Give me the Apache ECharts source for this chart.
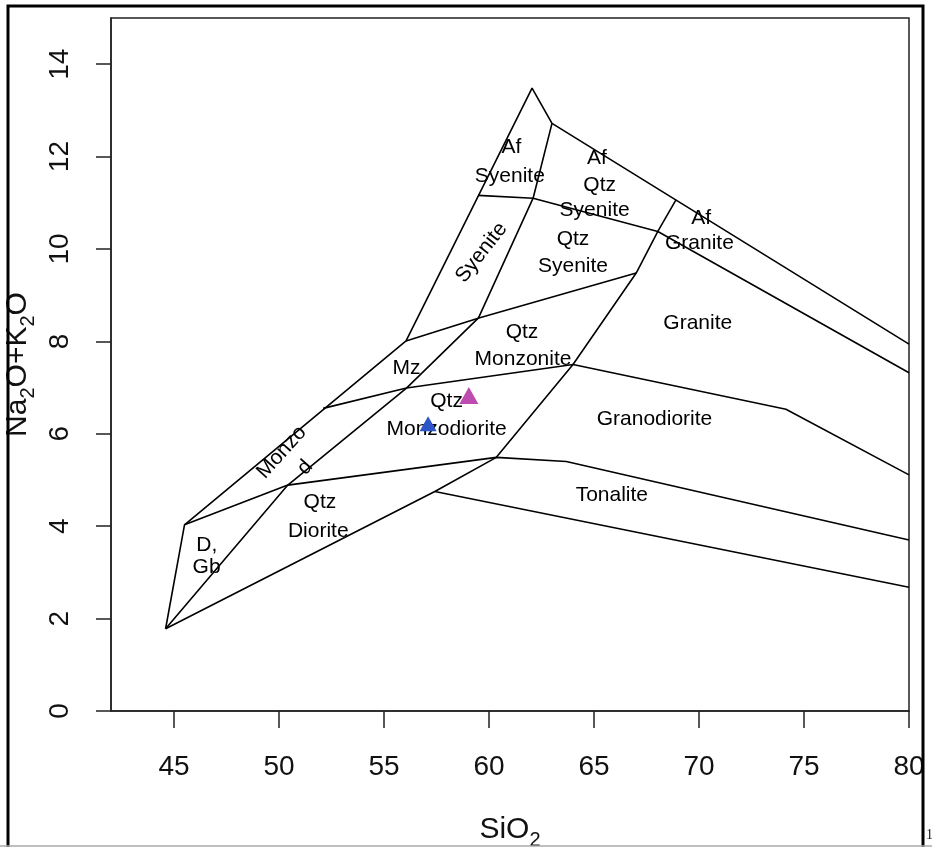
<!DOCTYPE html>
<html>
<head>
<meta charset="utf-8">
<script src="https://cdn.jsdelivr.net/npm/echarts@6/dist/echarts.min.js"></script>
<style>
html,body{margin:0;padding:0;background:#fff;}
#chart{width:932px;height:847px;}
</style>
</head>
<body>
<div id="chart"></div>
<script>
// ---- Axis ticks ----
const xTicks = [45, 50, 55, 60, 65, 70, 75, 80];
const yTicks = [0, 2, 4, 6, 8, 10, 12, 14];

// ---- Field boundary polylines (SiO2, Na2O+K2O) ----
const outerBoundary   = [[44.6,1.78],[45.5,4.03],[56.05,8.01],[62.05,13.48],[63.0,12.72],[80,7.94]];
const lowerBoundary   = [[44.6,1.78],[57.42,4.75],[60.35,5.49],[64.0,7.5],[67.01,9.48],[68.04,10.38],[68.91,11.07]];
const dioriteTop      = [[45.5,4.03],[50.42,4.89],[60.35,5.49],[63.68,5.40],[80,3.70]];
const tonaliteBottom  = [[57.42,4.75],[80,2.68]];
const monzoniteBottom = [[52.1,6.55],[56.07,6.99],[64.0,7.5],[74.14,6.53],[80,5.11]];
const syeniteBottom   = [[56.05,8.01],[59.56,8.51],[67.01,9.48]];
const innerSteep      = [[44.6,1.78],[50.42,4.89],[56.07,6.99],[59.5,8.51],[62.1,11.1],[63.0,12.72]];
const afSyeniteBottom = [[59.48,11.16],[62.1,11.1],[68.04,10.38],[80,7.32]];
const boundaries = [outerBoundary, lowerBoundary, dioriteTop, tonaliteBottom,
                    monzoniteBottom, syeniteBottom, innerSteep, afSyeniteBottom];

// ---- Field names ----
const fieldText  = ['Af','Syenite','Af','Qtz','Syenite','Af','Granite','Syenite','Qtz','Syenite',
                    'Qtz','Monzonite','Mz','Granite','Granodiorite','Tonalite','Qtz','Monzodiorite',
                    'Monzo','d','Qtz','Diorite','D,','Gb'];
const fieldX     = [61.07,60.99,65.14,65.27,65.03,70.10,70.02,59.64,64.0,64.0,
                    61.57,61.62,56.07,69.94,67.88,65.85,57.98,57.98,
                    50.13,51.24,51.95,51.87,46.56,46.55];
const fieldY     = [12.20,11.57,11.96,11.39,10.85,10.67,10.13,9.92,10.21,9.63,
                    8.19,7.61,7.43,8.40,6.32,4.68,6.71,6.10,
                    5.60,5.27,4.52,3.90,3.58,3.11];
const fieldAngle = [0,0,0,0,0,0,0,52,0,0,0,0,0,0,0,0,0,0,48,48,0,0,0,0];

// ---- Samples ----
const sampleMagenta = [[59.04,6.83]];
const sampleBlue    = [[57.10,6.22]];

const FONT = '"Liberation Sans", Arial, Helvetica, sans-serif';

const series = boundaries.map(b => ({
  type: 'line', data: b, symbol: 'none', silent: true, z: 3,
  lineStyle: {color: '#000', width: 1.6}
}));

series.push({
  type: 'scatter', symbolSize: 0, silent: true, z: 4,
  data: fieldText.map((t, i) => ({
    value: [fieldX[i], fieldY[i]], name: t,
    label: {rotate: fieldAngle[i]}
  })),
  label: {
    show: true, position: 'inside', formatter: p => p.name,
    fontFamily: FONT, fontSize: 21, color: '#000',
    textBorderWidth: 0, textBorderColor: 'transparent',
    align: 'center', verticalAlign: 'middle'
  },
  itemStyle: {opacity: 1}
});

series.push({
  type: 'scatter', data: sampleMagenta, symbol: 'triangle', symbolSize: [19, 17],
  itemStyle: {color: '#BE4BAF', opacity: 1}, z: 6
});
series.push({
  type: 'scatter', data: sampleBlue, symbol: 'triangle', symbolSize: [17, 15],
  itemStyle: {color: '#2D55C8', opacity: 1}, z: 6
});

const chart = echarts.init(document.getElementById('chart'), null, {renderer: 'canvas'});
chart.setOption({
  animation: false,
  backgroundColor: '#fff',
  grid: {left: 111, top: 18, right: 23, bottom: 136, show: true, containLabel: false,
         outerBoundsMode: 'none',
         borderColor: '#222', borderWidth: 1.5, backgroundColor: 'transparent'},
  xAxis: {
    type: 'value', min: 42, max: 80,
    name: '{n|SiO}{s|2}', nameLocation: 'middle', nameGap: 98,
    nameTextStyle: {
      rich: {
        n: {fontFamily: FONT, fontSize: 30, color: '#111'},
        s: {fontFamily: FONT, fontSize: 20, color: '#111', padding: [21, 0, 0, 0]}
      }
    },
    axisLine: {show: true, lineStyle: {color: '#222', width: 1.5}},
    axisTick: {show: true, length: 17, customValues: xTicks, lineStyle: {color: '#222', width: 1.5}},
    axisLabel: {customValues: xTicks, margin: 42, fontFamily: FONT, fontSize: 28, color: '#111'},
    splitLine: {show: false}
  },
  yAxis: {
    type: 'value', min: 0, max: 15,
    name: '{n|Na}{s|2}{n|O+K}{s|2}{n|O}', nameLocation: 'middle', nameGap: 67, nameRotate: 90,
    nameTextStyle: {
      rich: {
        n: {fontFamily: FONT, fontSize: 30, color: '#111'},
        s: {fontFamily: FONT, fontSize: 20, color: '#111', padding: [21, 0, 0, 0]}
      }
    },
    axisLine: {show: true, lineStyle: {color: '#222', width: 1.5}},
    axisTick: {show: true, length: 15, customValues: yTicks, lineStyle: {color: '#222', width: 1.5}},
    axisLabel: {customValues: yTicks, rotate: 90, margin: 37, fontFamily: FONT, fontSize: 28, color: '#111'},
    splitLine: {show: false}
  },
  graphic: [
    {type: 'rect', shape: {x: 8, y: 6, width: 915, height: 860}, z: 100, silent: true,
     style: {fill: 'none', stroke: '#000', lineWidth: 3}},
    {type: 'line', shape: {x1: 0, y1: 846, x2: 932, y2: 846}, z: 101, silent: true,
     style: {stroke: '#aaa', lineWidth: 1.5}},
    {type: 'text', x: 926, y: 828, z: 101, silent: true,
     style: {text: '1', font: '14px "Liberation Serif", serif', fill: '#111'}}
  ],
  series: series
});
</script>
</body>
</html>
